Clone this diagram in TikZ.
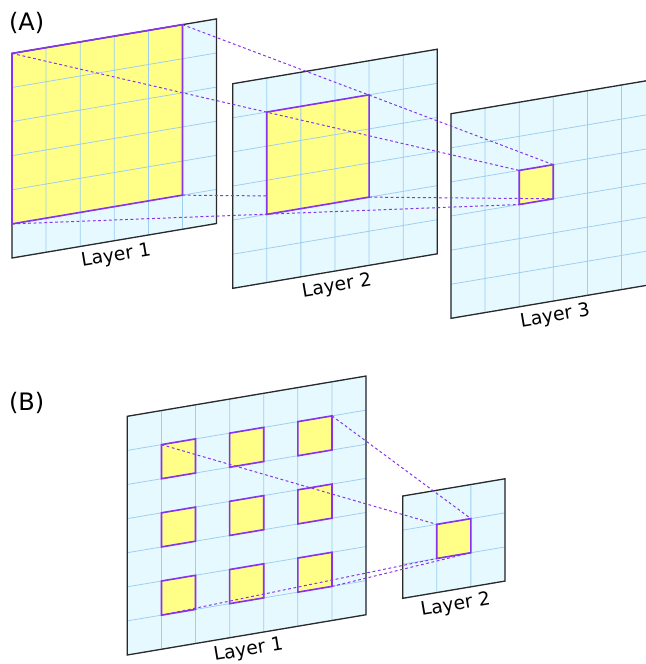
\documentclass[tikz,border=0pt]{standalone}
\usepackage{fontspec}
\setsansfont{DejaVu Sans}
\usepackage{xcolor}
\usetikzlibrary{calc}
\definecolor{cellbg}{HTML}{E6F9FF}
\definecolor{gridblue}{HTML}{9ECDF2}
\definecolor{fieldyellow}{HTML}{FFFF88}
\definecolor{fieldpurple}{HTML}{8833EE}
\definecolor{edgegray}{HTML}{2A2A2A}

\begin{document}
\begin{tikzpicture}[
  font=\sffamily,
  plane/.style={cm={1.023,0.1725,0,1.023,(0,0)}},
  sheetfill/.style={fill=cellbg},
  gridlines/.style={draw=gridblue, line width=0.65pt},
  sheetframe/.style={draw=edgegray, line width=1.1pt},
  fieldfill/.style={fill=fieldyellow},
  fieldedge/.style={draw=fieldpurple, line width=1.4pt},
  rflink/.style={draw=fieldpurple, line width=0.85pt, dash pattern=on 2.4pt off 2.2pt},
  layername/.style={midway, below=3.5pt, rotate=9.57, inner sep=2pt, font=\sffamily\fontsize{16}{19}\selectfont},
  paneltag/.style={font=\sffamily\fontsize{20.5}{24}\selectfont},
]
\useasboundingbox (0,0) rectangle (19.38,19.92);
\clip (0,0) rectangle (19.38,19.92);

% (A)
\node[paneltag] (tagA) at (0.8,19.23) {(A)};

\begin{scope}[shift={(0.36,12.18)}, plane]
  \fill[sheetfill] (0,0) rectangle (6,6);
  \fill[fieldfill] (0,1) rectangle (5,6);
  \draw[gridlines] (0,0) grid (6,6);
  \draw[sheetframe] (0,0) rectangle (6,6);
  \draw[fieldedge] (0,1) rectangle (5,6);
  \coordinate (a1-tl) at (0,6); \coordinate (a1-tr) at (5,6);
  \coordinate (a1-bl) at (0,1); \coordinate (a1-br) at (5,1);
  \path (0,0) -- (6,0) node[layername] (a1-name) {Layer 1};
\end{scope}

\begin{scope}[shift={(6.98,11.27)}, plane]
  \fill[sheetfill] (0,0) rectangle (6,6);
  \fill[fieldfill] (1,2) rectangle (4,5);
  \draw[gridlines] (0,0) grid (6,6);
  \draw[sheetframe] (0,0) rectangle (6,6);
  \draw[fieldedge] (1,2) rectangle (4,5);
  \coordinate (a2-br) at (4,2);
  \path (0,0) -- (6,0) node[layername] (a2-name) {Layer 2};
\end{scope}

\begin{scope}[shift={(13.53,10.37)}, plane]
  \fill[sheetfill] (0,0) rectangle (6,6);
  \fill[fieldfill] (2,3) rectangle (3,4);
  \draw[gridlines] (0,0) grid (6,6);
  \draw[sheetframe] (0,0) rectangle (6,6);
  \draw[fieldedge] (2,3) rectangle (3,4);
  \coordinate (a3-tl) at (2,4); \coordinate (a3-tr) at (3,4);
  \coordinate (a3-bl) at (2,3); \coordinate (a3-br) at (3,3);
  \path (0,0) -- (6,0) node[layername] (a3-name) {Layer 3};
\end{scope}

\draw[rflink] (a1-tl) -- (a3-tl);
\draw[rflink] (a1-tr) -- (a3-tr);
\draw[rflink] (a1-bl) -- (a3-bl);
\draw[rflink] (a1-br) -- ($(a1-br)!0.227!(a3-br)$);
\draw[rflink] (a2-br) -- (a3-br);

% (B)
\node[paneltag] (tagB) at (0.8,7.83) {(B)};

\begin{scope}[shift={(3.82,0.27)}, plane]
  \fill[sheetfill] (0,0) rectangle (7,7);
  \foreach \i in {1,3,5}
    \foreach \j in {1,3,5}
      \fill[fieldfill] (\i,\j) rectangle ++(1,1);
  \draw[gridlines] (0,0) grid (7,7);
  \draw[sheetframe] (0,0) rectangle (7,7);
  \foreach \i in {1,3,5}
    \foreach \j in {1,3,5}
      \draw[fieldedge] (\i,\j) rectangle ++(1,1);
  \coordinate (b1-tl) at (1,6); \coordinate (b1-tr) at (6,6);
  \coordinate (b1-bl) at (1,1); \coordinate (b1-br) at (6,1);
  \path (0,0) -- (7,0) node[layername] (b1-name) {Layer 1};
\end{scope}

\begin{scope}[shift={(12.08,1.97)}, plane]
  \fill[sheetfill] (0,0) rectangle (3,3);
  \fill[fieldfill] (1,1) rectangle (2,2);
  \draw[gridlines] (0,0) grid (3,3);
  \draw[sheetframe] (0,0) rectangle (3,3);
  \draw[fieldedge] (1,1) rectangle (2,2);
  \coordinate (b2-tl) at (1,2); \coordinate (b2-tr) at (2,2);
  \coordinate (b2-bl) at (1,1); \coordinate (b2-br) at (2,1);
  \path (0,0) -- (3,0) node[layername] (b2-name) {Layer 2};
\end{scope}

\draw[rflink] (b1-tl) -- (b2-tl);
\draw[rflink] (b1-tr) -- (b2-tr);
\draw[rflink] (b1-bl) -- (b2-bl);
\draw[rflink] (b1-br) -- (b2-br);
\end{tikzpicture}
\end{document}
